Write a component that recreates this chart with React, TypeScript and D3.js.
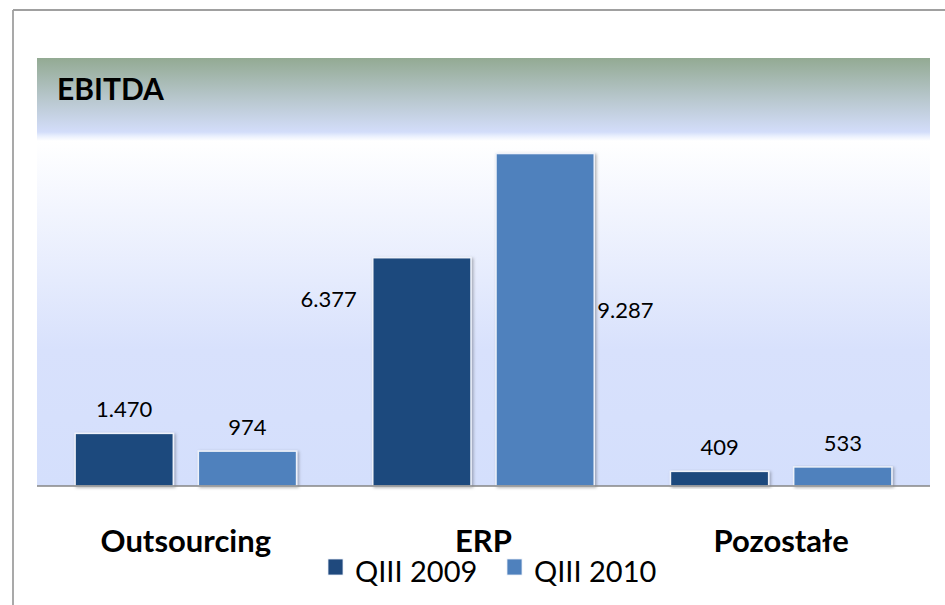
import React from "react";
import * as d3 from "d3";

const categories = ["Outsourcing", "ERP", "Pozostałe"];
const seriesNames = ["QIII 2009", "QIII 2010"];
const q3_2009 = [1470, 6377, 409];
const q3_2010 = [974, 9287, 533];
const seriesColors = ["#1f497d", "#4f81bd"];
const chartTitle = "EBITDA";

const W = 945;
const H = 605;

const plLocale = d3.formatLocale({
  decimal: ",",
  thousands: ".",
  grouping: [3],
  currency: ["", ""],
});
const fmt = plLocale.format(",");

export default function App() {
  const plotLeft = 37;
  const plotRight = 930;
  const bandTop = 58;
  const baseY = 486;

  const x0 = d3
    .scaleBand<string>()
    .domain(categories)
    .range([plotLeft, plotRight])
    .paddingInner(0.256)
    .paddingOuter(0.128);
  const x1 = d3
    .scaleBand<string>()
    .domain(seriesNames)
    .range([0, x0.bandwidth()])
    .paddingInner(0.203)
    .paddingOuter(0);
  const y = d3.scaleLinear().domain([0, 10000]).range([baseY, 128]);

  const seriesValues = [q3_2009, q3_2010];
  const span = baseY - bandTop;
  const off = (v: number) => `${((v - bandTop) / span) * 100}%`;

  const labelFont = "Lato, 'Open Sans', sans-serif";

  return (
    <svg
      width={W}
      height={H}
      style={{ position: "absolute", left: 0, top: 0, display: "block", background: "#fff" }}
    >
      <defs>
        <linearGradient id="bg" x1="0" y1="0" x2="0" y2="1">
          <stop offset="0%" stopColor="#93aa93" />
          <stop offset={off(100)} stopColor="#b9c8cf" />
          <stop offset={off(132)} stopColor="#d3ddfa" />
          <stop offset={off(136)} stopColor="#e9effd" />
          <stop offset={off(141)} stopColor="#ffffff" />
          <stop offset={off(350)} stopColor="#d8e1fc" />
          <stop offset="100%" stopColor="#d4dffc" />
        </linearGradient>
        <filter id="shadow" x="-10%" y="-10%" width="130%" height="130%">
          <feDropShadow dx="1.5" dy="1" stdDeviation="1.5" floodColor="#000" floodOpacity="0.3" />
        </filter>
      </defs>

      {/* outer frame */}
      <line x1={13} y1={10} x2={W} y2={10} stroke="#a0a0a0" strokeWidth={1.8} />
      <line x1={13} y1={10} x2={13} y2={H} stroke="#a0a0a0" strokeWidth={1.8} />

      {/* gradient background */}
      <rect x={plotLeft} y={bandTop} width={plotRight - plotLeft} height={baseY - bandTop} fill="url(#bg)" />

      {/* title */}
      <text
        x={57}
        y={100}
        fontFamily={labelFont}
        fontWeight="bold"
        fontSize={30}
        fill="#000"
      >
        {chartTitle}
      </text>

      {/* bars */}
      {categories.map((cat, ci) => (
        <g key={cat} transform={`translate(${x0(cat)},0)`}>
          {seriesNames.map((s, si) => {
            const v = seriesValues[si][ci];
            const bx = x1(s)!;
            const bw = x1.bandwidth();
            return (
              <rect
                key={s}
                x={bx}
                y={y(v)}
                width={bw}
                height={baseY - y(v)}
                fill={seriesColors[si]}
                stroke="#eef2fa"
                strokeWidth={1.5}
                filter="url(#shadow)"
              />
            );
          })}
        </g>
      ))}

      {/* axis line */}
      <line x1={plotLeft} y1={baseY} x2={plotRight} y2={baseY} stroke="#868686" strokeWidth={1.5} />

      {/* value labels */}
      {categories.map((cat, ci) =>
        seriesNames.map((s, si) => {
          const v = seriesValues[si][ci];
          const bx = x0(cat)! + x1(s)!;
          const bw = x1.bandwidth();
          let lx = bx + bw / 2;
          let ly = y(v) - 16;
          let anchor: "middle" | "start" | "end" = "middle";
          if (cat === "ERP") {
            if (si === 0) {
              anchor = "end";
              lx = bx - 16;
              ly = y(v) + 49;
            } else {
              anchor = "start";
              lx = bx + bw + 3;
              ly = y(v / 2) - 2;
            }
          }
          return (
            <text
              key={cat + s}
              x={lx}
              y={ly}
              textAnchor={anchor}
              fontFamily={labelFont}
              fontSize={22}
              fill="#000"
            >
              {fmt(v)}
            </text>
          );
        })
      )}

      {/* category labels */}
      {categories.map((cat) => (
        <text
          key={cat}
          x={x0(cat)! + x0.bandwidth() / 2}
          y={552}
          textAnchor="middle"
          fontFamily={labelFont}
          fontWeight="bold"
          fontSize={31}
          fill="#000"
        >
          {cat}
        </text>
      ))}

      {/* legend */}
      {seriesNames.map((s, si) => {
        const lx = si === 0 ? 328 : 507;
        return (
          <g key={s}>
            <rect x={lx} y={559} width={15} height={16} fill={seriesColors[si]} stroke="#e8eef8" strokeWidth={0.8} />
            <text x={lx + 27} y={582} fontFamily={labelFont} fontSize={29} fill="#000">
              {s}
            </text>
          </g>
        );
      })}
    </svg>
  );
}
